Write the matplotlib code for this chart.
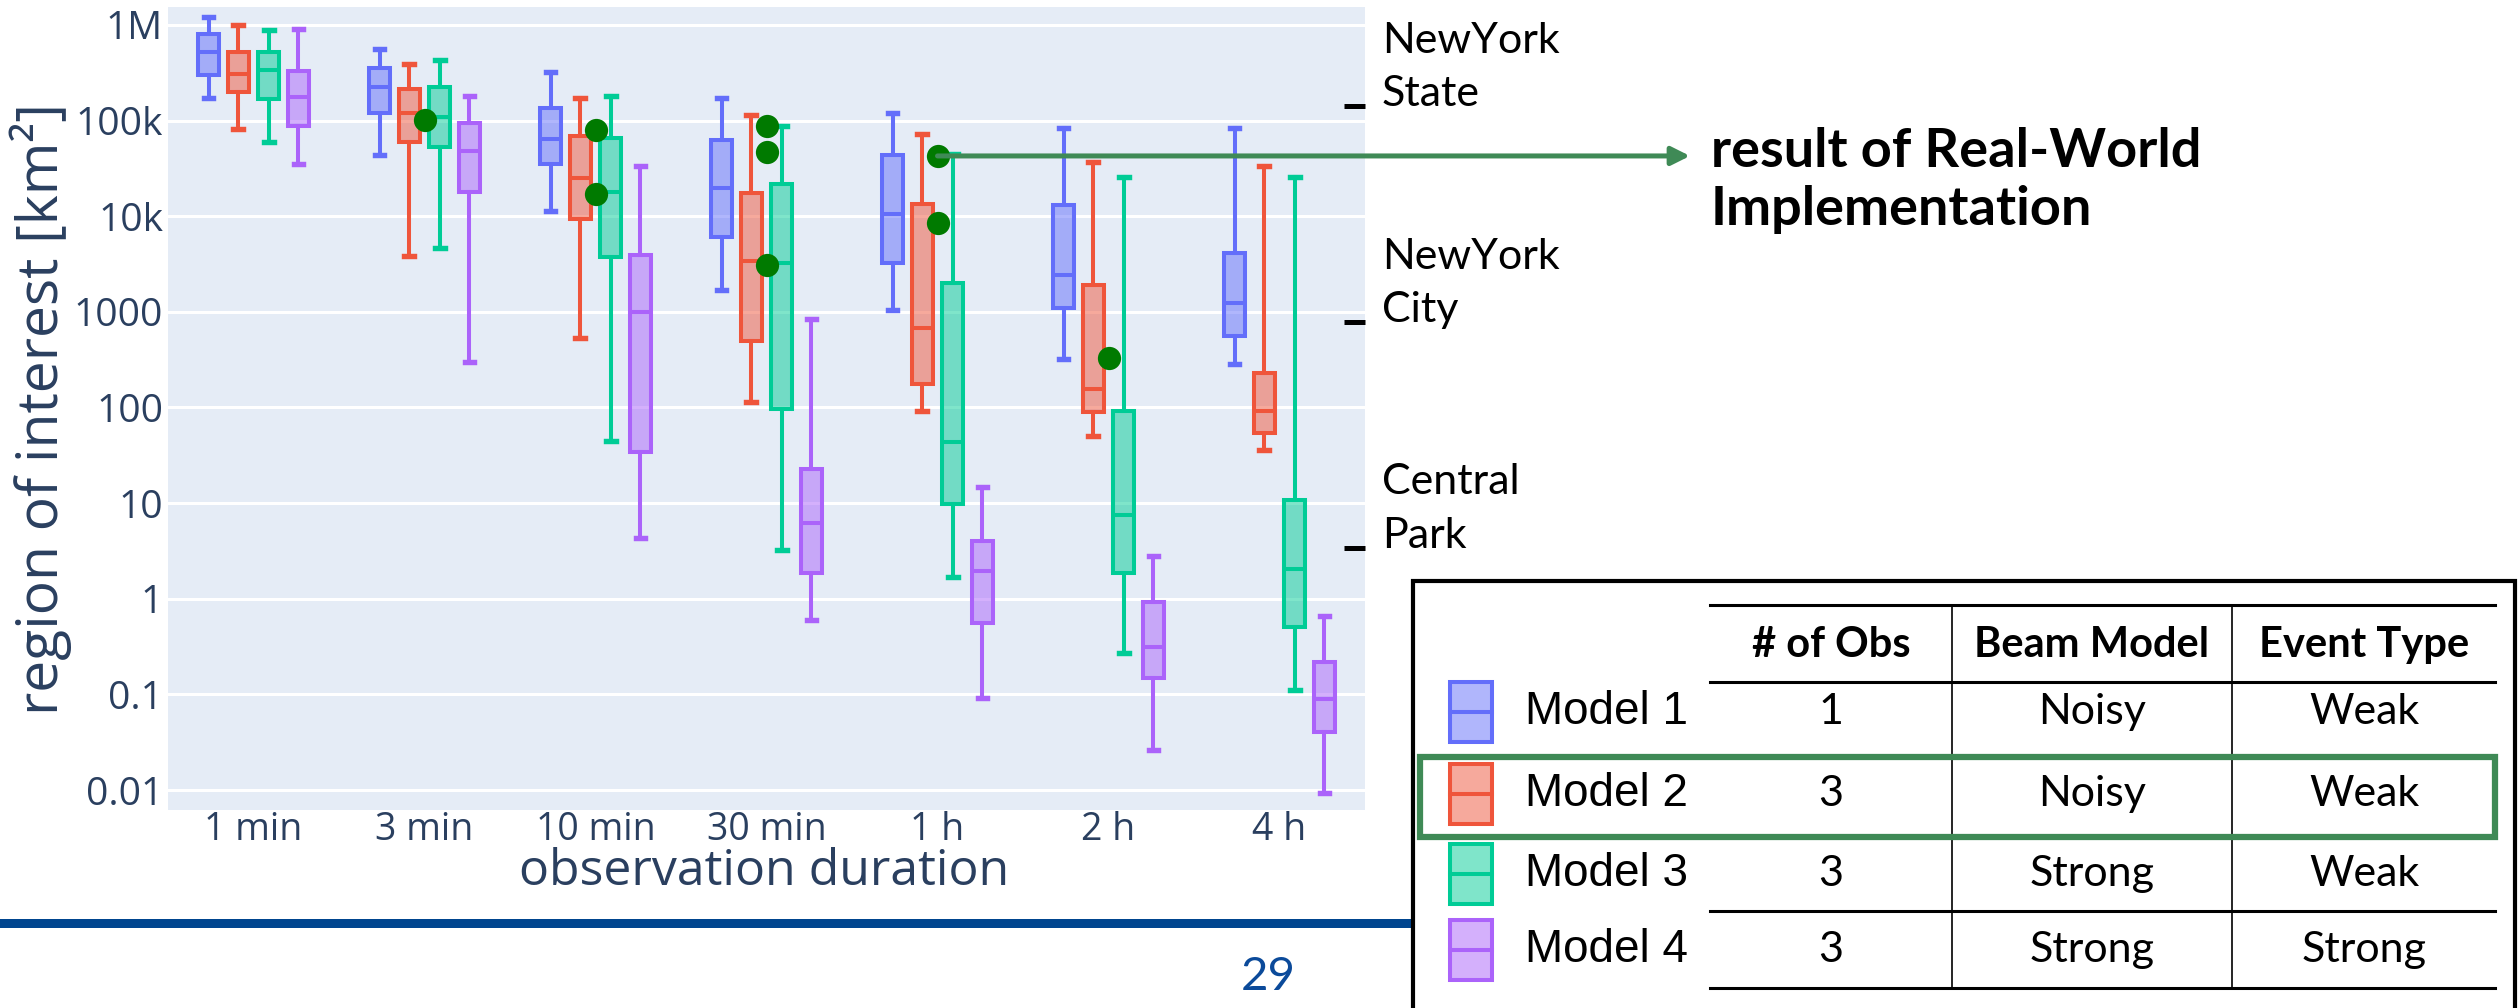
import numpy as np
import matplotlib.pyplot as plt
from matplotlib.colors import to_rgba
from matplotlib.patches import Rectangle
from matplotlib.ticker import NullLocator

durations = ["1 min", "3 min", "10 min", "30 min", "1 h", "2 h", "4 h"]
model_names = ["Model 1", "Model 2", "Model 3", "Model 4"]
model_colors = ["#636EFA", "#EF553B", "#00CC96", "#AB63FA"]

# per duration: lower whisker, q1, median, q3, upper whisker  [km^2]
model1 = [[171e3, 300e3, 525e3, 805e3, 1.2e6],
          [43.6e3, 119e3, 223e3, 352e3, 557e3],
          [11.4e3, 35e3, 64e3, 136e3, 325e3],
          [1.69e3, 6.1e3, 19.9e3, 62.7e3, 174e3],
          [1.05e3, 3.27e3, 10.5e3, 43.7e3, 119e3],
          [318, 1.09e3, 2.43e3, 13.1e3, 84e3],
          [283, 562, 1.24e3, 4.1e3, 84e3]]
model2 = [[81.7e3, 200e3, 307e3, 518e3, 1.0e6],
          [3.84e3, 60e3, 121e3, 212e3, 388e3],
          [536, 9.4e3, 24.9e3, 69e3, 171e3],
          [113, 499, 3.4e3, 17.6e3, 115e3],
          [92, 175, 682, 13.3e3, 72e3],
          [50, 89, 155, 1.9e3, 37e3],
          [35.9, 53.6, 92, 227, 33.7e3]]
model3 = [[60e3, 168e3, 338e3, 526e3, 887e3],
          [4.6e3, 53e3, 110e3, 226e3, 430e3],
          [45, 3.77e3, 17.8e3, 66e3, 182e3],
          [3.27, 95.5, 3.27e3, 21.6e3, 88e3],
          [1.69, 9.7, 43.8, 1.99e3, 44.8e3],
          [0.27, 1.87, 7.5, 91, 25.9e3],
          [0.11, 0.51, 2.07, 10.7, 26e3]]
model4 = [[35e3, 88e3, 175e3, 333e3, 900e3],
          [297, 17.8e3, 48e3, 94e3, 181e3],
          [4.3, 34.4, 1000, 3.93e3, 33.7e3],
          [0.6, 1.84, 6.2, 22.7, 841],
          [0.092, 0.56, 1.94, 4.03, 14.8],
          [0.026, 0.15, 0.31, 0.93, 2.8],
          [0.0093, 0.04, 0.089, 0.22, 0.66]]

# real-world runs
real_world_x = ["3 min", "10 min", "10 min", "30 min", "30 min", "30 min", "1 h", "1 h", "2 h"]
real_world_area = [101e3, 80e3, 17e3, 88e3, 47e3, 3.1e3, 42.7e3, 8.4e3, 331]

landmark_names = ["NewYork\nState", "NewYork\nCity", "Central\nPark"]
landmark_area = [141.3e3, 783, 3.41]

ytick_vals = [1e-2, 1e-1, 1, 10, 100, 1e3, 1e4, 1e5, 1e6]
ytick_labels = ["0.01", "0.1", "1", "10", "100", "1000", "10k", "100k", "1M"]

table_cols = ["# of Obs", "Beam Model", "Event Type"]
n_obs = ["1", "3", "3", "3"]
beam_model = ["Noisy", "Noisy", "Strong", "Strong"]
event_type = ["Weak", "Weak", "Weak", "Strong"]

W, H = 2519, 1008
fig = plt.figure(figsize=(W / 100, H / 100), dpi=100)


def fx(px):
    return px / W


def fy(py):
    return 1 - py / H


txt = "#2a3f5f"
ax = fig.add_axes([fx(168), fy(810), (1365 - 168) / W, (810 - 7) / H])
ax.set_facecolor("#E5ECF6")
ax.set_yscale("log")
ax.set_ylim(10 ** -2.209, 10 ** 6.188)
ax.set_xlim(-0.5, len(durations) - 0.5)

offsets = [-0.263, -0.088, 0.088, 0.263]
lw = 2.9
for k, data in enumerate([model1, model2, model3, model4]):
    c = model_colors[k]
    stats = [dict(whislo=s[0], q1=s[1], med=s[2], q3=s[3], whishi=s[4], fliers=[]) for s in data]
    pos = np.arange(len(durations)) + offsets[k]
    ax.bxp(stats, positions=pos, widths=0.123, capwidths=0.058, patch_artist=True,
           showfliers=False, manage_ticks=False, zorder=3,
           boxprops=dict(facecolor=to_rgba(c, 0.5), edgecolor=c, linewidth=lw),
           medianprops=dict(color=c, linewidth=lw),
           whiskerprops=dict(color=c, linewidth=lw),
           capprops=dict(color=c, linewidth=lw + 1))

xs = [durations.index(d) for d in real_world_x]
ax.scatter(xs, real_world_area, s=280, color="#007A00", zorder=6, linewidths=0)

# arrow from the top 1 h result to the annotation
i_top = real_world_x.index("1 h")
ax.annotate("", xy=(fx(1690), real_world_area[i_top]), xycoords=("figure fraction", "data"),
            xytext=(xs[i_top], real_world_area[i_top]), textcoords="data",
            arrowprops=dict(arrowstyle="-|>,head_length=0.5,head_width=0.25", color="#3F8A56",
                            lw=3.6, shrinkA=0, shrinkB=0, mutation_scale=22),
            annotation_clip=False, zorder=7)

ax.set_yticks(ytick_vals)
ax.set_yticklabels(ytick_labels)
ax.yaxis.set_minor_locator(NullLocator())
ax.set_xticks(range(len(durations)))
ax.set_xticklabels(durations)
ax.tick_params(axis="both", length=0, labelsize=27, labelcolor=txt)
ax.tick_params(axis="y", pad=3.6, labelsize=28)
ax.tick_params(axis="x", pad=1)
for lab in ax.get_xticklabels() + ax.get_yticklabels():
    lab.set_family("Open Sans")
ax.grid(axis="y", color="white", linewidth=2.2)
ax.set_axisbelow(True)
for s in ax.spines.values():
    s.set_visible(False)

ax.set_ylabel("region of interest [km²]", fontsize=41, color=txt, family="Open Sans",
              va="center", rotation_mode="default")
ax.yaxis.set_label_coords(-0.106, 0.5)
ax.set_xlabel("observation duration", fontsize=36, color=txt, family="Open Sans", va="center")
ax.xaxis.set_label_coords(0.498, -0.078)

# landmark scale on the right edge
axr = ax.twinx()
axr.set_yscale("log")
axr.set_ylim(ax.get_ylim())
axr.set_yticks(landmark_area)
axr.set_yticklabels([])
axr.yaxis.set_minor_locator(NullLocator())
axr.tick_params(axis="y", direction="in", length=15, width=3.6, color="black")
for s in axr.spines.values():
    s.set_visible(False)
for name, area in zip(landmark_names, landmark_area):
    ax.annotate(name, xy=(1, area), xycoords=("axes fraction", "data"), xytext=(17, 0),
                textcoords="offset pixels", ha="left", va="baseline", fontsize=31,
                family="Lato", linespacing=1.5, annotation_clip=False)

fig.text(fx(1711), fy(127), "result of Real-World\nImplementation", fontsize=39,
         fontweight="bold", family="Lato", ha="left", va="top", linespacing=1.22)

# footer bar and page number
fig.add_artist(Rectangle((0, fy(928)), fx(1413), 9 / H, transform=fig.transFigure,
                         color="#00458F", lw=0))
fig.text(fx(1268), fy(977), "29", fontsize=34, color="#0B4A9A", family="Lato",
         ha="center", va="center")

# model table
fig.add_artist(Rectangle((fx(1413), fy(1020)), fx(2515) - fx(1413), fy(581) - fy(1020),
                         transform=fig.transFigure, facecolor="white", edgecolor="black",
                         lw=3, zorder=2))
rule_x0, rule_x1 = fx(1710), fx(2495)
for y in [605, 682, 911, 988]:
    fig.add_artist(plt.Line2D([rule_x0, rule_x1], [fy(y), fy(y)], color="black", lw=2.2, zorder=3))
for x in [1952, 2232]:
    fig.add_artist(plt.Line2D([fx(x), fx(x)], [fy(605), fy(988)], color="black", lw=1.2, zorder=3))

col_x = [1831, 2092, 2364]
row_y = [712, 794, 874, 950]
for cx, name in zip(col_x, table_cols):
    fig.text(fx(cx), fy(645), name, fontsize=30, fontweight="bold", family="Lato",
             ha="center", va="center", zorder=4)
for r in range(len(model_names)):
    c = model_colors[r]
    fig.add_artist(Rectangle((fx(1450), fy(row_y[r] + 30)), 42 / W, 60 / H,
                             transform=fig.transFigure, facecolor=to_rgba(c, 0.5),
                             edgecolor=c, lw=2.9, zorder=4))
    fig.add_artist(plt.Line2D([fx(1450), fx(1492)], [fy(row_y[r]), fy(row_y[r])], color=c,
                              lw=2.9, zorder=4))
    fig.text(fx(1525), fy(row_y[r]), model_names[r], fontsize=33, family="Liberation Sans",
             ha="left", va="center", zorder=4)
    for cx, val in zip(col_x, [n_obs[r], beam_model[r], event_type[r]]):
        fig.text(fx(cx), fy(row_y[r]), val, fontsize=31, family="Lato",
                 ha="center", va="center", zorder=4)

# highlighted row
fig.add_artist(Rectangle((fx(1420), fy(837)), fx(2495) - fx(1420), fy(757) - fy(837),
                         transform=fig.transFigure, facecolor="none", edgecolor="#3F8A56",
                         lw=4.5, zorder=5))

fig.savefig("out.png", dpi=100)
